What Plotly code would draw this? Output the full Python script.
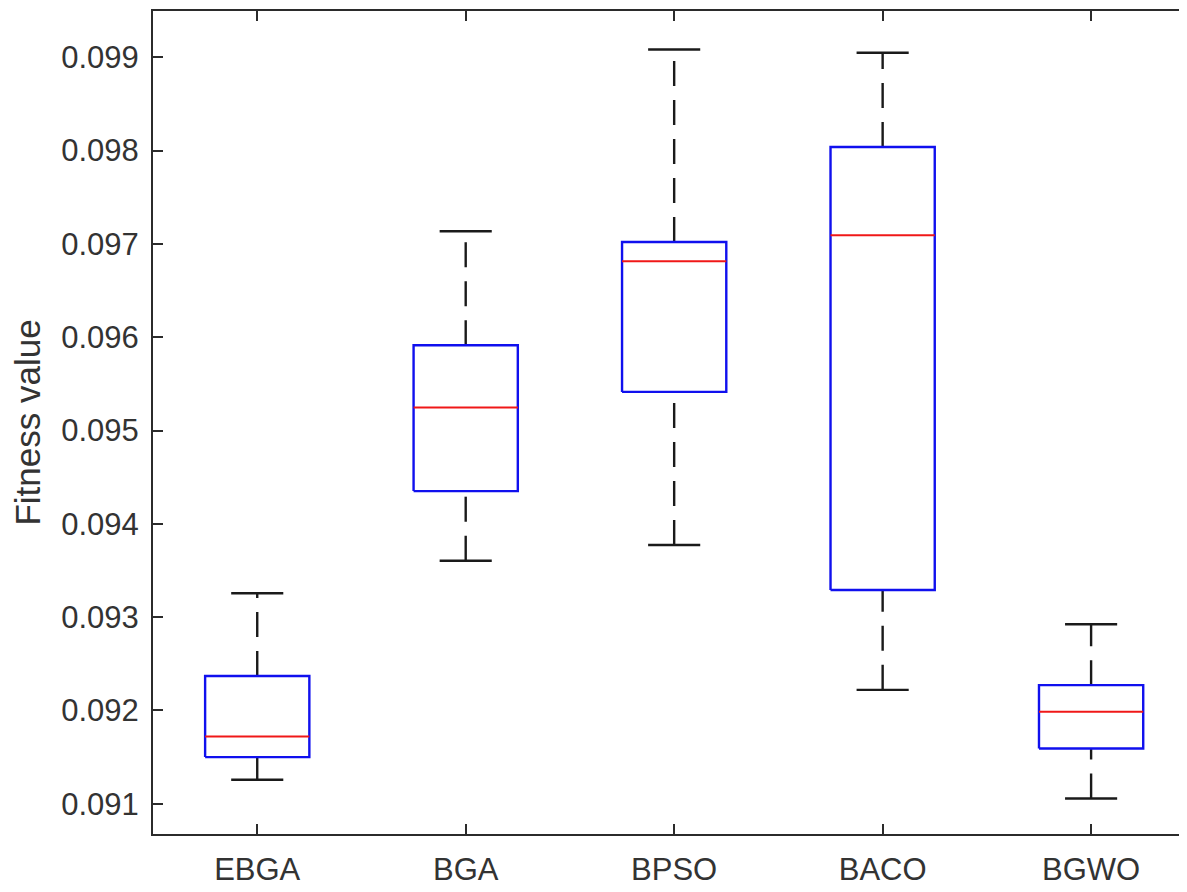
import plotly.graph_objects as go

# ---- data ----
categories = ["EBGA", "BGA", "BPSO", "BACO", "BGWO"]
lower_whisker = [0.091257, 0.093605, 0.093773, 0.092221, 0.091057]
q1_values     = [0.091500, 0.094351, 0.095414, 0.093291, 0.091592]
medians       = [0.091721, 0.095247, 0.096814, 0.097092, 0.091985]
q3_values     = [0.092370, 0.095914, 0.097020, 0.098038, 0.092271]
upper_whisker = [0.093256, 0.097135, 0.099083, 0.099048, 0.092924]
y_ticks = [0.091, 0.092, 0.093, 0.094, 0.095, 0.096, 0.097, 0.098, 0.099]

BOX_W = 0.5
CAP_W = 0.25
AX_COLOR = "#2b2b2b"
TXT_COLOR = "#333333"
FONT = "Liberation Sans, Arial, Helvetica, sans-serif"

positions = list(range(1, len(categories) + 1))

# whiskers (drawn bottom -> top, like MATLAB)
wx, wy = [], []
for p, lo, a, b, hi in zip(positions, lower_whisker, q1_values, q3_values, upper_whisker):
    wx += [p, p, None, p, p, None]
    wy += [lo, a, None, b, hi, None]

# caps
cx, cy = [], []
for p, lo, hi in zip(positions, lower_whisker, upper_whisker):
    cx += [p - CAP_W / 2, p + CAP_W / 2, None, p - CAP_W / 2, p + CAP_W / 2, None]
    cy += [lo, lo, None, hi, hi, None]

# boxes
bx, by = [], []
for p, a, b in zip(positions, q1_values, q3_values):
    l, r = p - BOX_W / 2, p + BOX_W / 2
    bx += [l, r, r, l, l, None]
    by += [a, a, b, b, a, None]

# medians
mx, my = [], []
for p, m in zip(positions, medians):
    mx += [p - BOX_W / 2, p + BOX_W / 2, None]
    my += [m, m, None]

fig = go.Figure()
fig.add_trace(go.Scatter(x=wx, y=wy, mode="lines", hoverinfo="skip",
                         line=dict(color="#1a1a1a", width=2.4, dash="25px,14px")))
fig.add_trace(go.Scatter(x=cx, y=cy, mode="lines", hoverinfo="skip",
                         line=dict(color="#1a1a1a", width=2.4)))
fig.add_trace(go.Scatter(x=bx, y=by, mode="lines", hoverinfo="skip",
                         line=dict(color="#1010ee", width=2.4)))
fig.add_trace(go.Scatter(x=mx, y=my, mode="lines", hoverinfo="skip",
                         line=dict(color="#f01818", width=2)))
# invisible trace to anchor the right-hand tick axis
fig.add_trace(go.Scatter(x=positions, y=medians, mode="markers", yaxis="y2",
                         marker=dict(opacity=0), hoverinfo="skip"))

y_range = [0.090676, 0.099496]

fig.update_layout(
    width=1179, height=884,
    margin=dict(l=145, r=0, t=3, b=58),
    paper_bgcolor="white", plot_bgcolor="white",
    showlegend=False,
    font=dict(family=FONT, color=TXT_COLOR, size=31),
    xaxis=dict(
        range=[0.5, 5.46],
        tickmode="array", tickvals=positions, ticktext=categories,
        ticks="inside", ticklen=10, tickwidth=2, tickcolor=AX_COLOR,
        showline=True, linecolor=AX_COLOR, linewidth=2, mirror="ticks",
        showgrid=False, zeroline=False,
        tickfont=dict(size=31, color=TXT_COLOR),
        ticklabelstandoff=7,
    ),
    yaxis=dict(
        range=y_range,
        tickmode="array", tickvals=y_ticks,
        ticktext=[f"{v:.3f}" for v in y_ticks],
        ticks="inside", ticklen=10, tickwidth=2, tickcolor=AX_COLOR,
        showline=True, linecolor=AX_COLOR, linewidth=2, mirror=False,
        showgrid=False, zeroline=False,
        tickfont=dict(size=31, color=TXT_COLOR),
        ticklabelstandoff=6,
        title=dict(text="Fitness value", font=dict(size=35, color=TXT_COLOR), standoff=10),
    ),
    yaxis2=dict(
        range=y_range, overlaying="y", side="right",
        tickmode="array", tickvals=y_ticks,
        ticks="inside", ticklen=3, tickwidth=2, tickcolor=AX_COLOR,
        showticklabels=False, showline=False, showgrid=False, zeroline=False,
    ),
)

fig.write_html("out.html")
